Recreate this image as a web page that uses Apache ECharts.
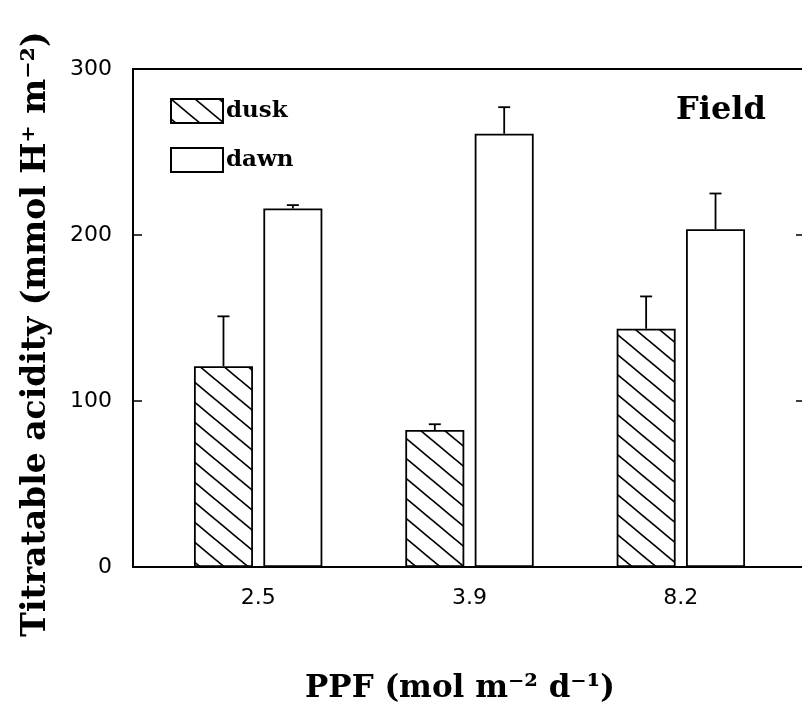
<!DOCTYPE html>
<html lang="en">
<head>
    <meta charset="utf-8">
    <script src="https://cdn.jsdelivr.net/npm/echarts@6/dist/echarts.min.js"></script>
    <title>Titratable acidity - Field</title>
    <style>
        html, body { margin: 0; padding: 0; background: #fff; }
        #main { width: 802px; height: 706px; }
    </style>
</head>
<body>
<div id="main"></div>
<script>
    // values
    var categories = ['2.5', '3.9', '8.2'];
    var duskMean = [121, 82.5, 143.5];
    var duskUpper = [151, 86, 163];
    var dawnMean = [216, 261, 203.5];
    var dawnUpper = [218, 277, 225];
    var yTicks = [0, 100, 200, 300];

    var serif = 'DejaVu Serif';
    var sans = 'DejaVu Sans';

    // diagonal hatch tile for the dusk bars
    function hatch() {
        var c = document.createElement('canvas');
        var w = 24, h = 20;
        c.width = w; c.height = h;
        var ctx = c.getContext('2d');
        ctx.fillStyle = '#fff';
        ctx.fillRect(0, 0, w, h);
        ctx.strokeStyle = '#000';
        ctx.lineWidth = 1.7;
        for (var dx = -1; dx <= 1; dx++) {
            for (var dy = -1; dy <= 1; dy++) {
                ctx.beginPath();
                ctx.moveTo(dx * w, dy * h);
                ctx.lineTo(dx * w + w, dy * h + h);
                ctx.stroke();
            }
        }
        return c;
    }

    var barW = 59, gapPct = 17.6;
    var half = barW / 2 + barW * gapPct / 200;

    var errData = [];
    categories.forEach(function (c, i) {
        errData.push([i, duskMean[i], duskUpper[i], -1]);
        errData.push([i, dawnMean[i], dawnUpper[i], 1]);
    });

    var chart = echarts.init(document.getElementById('main'));

    var option = {
        animation: false,
        backgroundColor: '#fff',
        grid: [{
            left: 133, top: 69, width: 673, height: 498, outerBoundsMode: 'none',
            show: true, borderColor: '#000', borderWidth: 2, backgroundColor: 'transparent'
        }, {
            left: 152.5, top: 69, width: 634, height: 498, outerBoundsMode: 'none'
        }],
        xAxis: [{
            type: 'value', gridIndex: 0, show: false
        }, {
            type: 'category', gridIndex: 1, data: categories,
            axisLine: {show: false},
            axisTick: {show: false},
            axisLabel: {color: '#000', fontFamily: sans, fontSize: 22, margin: 20}
        }],
        yAxis: [{
            type: 'value', gridIndex: 0, min: yTicks[0], max: yTicks[yTicks.length - 1], interval: 100,
            axisLine: {show: true, lineStyle: {color: '#000', width: 2}},
            axisTick: {show: true, inside: true, length: 9, lineStyle: {color: '#000', width: 1.5}},
            axisLabel: {color: '#000', fontFamily: sans, fontSize: 22, margin: 21},
            splitLine: {show: false}
        }, {
            type: 'value', gridIndex: 0, position: 'right', min: 0, max: 300, interval: 100,
            axisLine: {show: false},
            axisTick: {show: true, inside: true, length: 10, lineStyle: {color: '#000', width: 1.5}},
            axisLabel: {show: false},
            splitLine: {show: false}
        }, {
            type: 'value', gridIndex: 1, min: 0, max: 300, show: false
        }],
        legend: {
            data: ['dusk', 'dawn'],
            orient: 'vertical',
            left: 170, top: 98,
            padding: 0,
            itemWidth: 52, itemHeight: 24, itemGap: 23,
            icon: 'rect',
            textStyle: {color: '#000', fontFamily: serif, fontWeight: 'bold', fontSize: 23, padding: [0, 0, 0, -2]}
        },
        graphic: [{
            type: 'text', left: 676, top: 95,
            style: {text: 'Field', fill: '#000', font: 'bold 32px "DejaVu Serif"'}
        }, {
            type: 'text', x: 36, y: 334, rotation: Math.PI / 2,
            style: {
                text: 'Titratable acidity (mmol H\u207A m\u207B\u00B2)', fill: '#000',
                font: 'bold 33px "DejaVu Serif"', align: 'center', verticalAlign: 'middle'
            }
        }, {
            type: 'text', x: 460, y: 689,
            style: {
                text: 'PPF (mol m\u207B\u00B2 d\u207B\u00B9)', fill: '#000',
                font: 'bold 31px "DejaVu Serif"', align: 'center', verticalAlign: 'middle'
            }
        }],
        series: [{
            name: 'dusk', type: 'bar', xAxisIndex: 1, yAxisIndex: 2,
            barWidth: barW, barGap: gapPct + '%',
            itemStyle: {
                color: {image: hatch(), repeat: 'repeat'},
                borderColor: '#000', borderWidth: 1.8
            },
            data: duskMean
        }, {
            name: 'dawn', type: 'bar', xAxisIndex: 1, yAxisIndex: 2,
            barWidth: barW, barGap: gapPct + '%',
            itemStyle: {color: '#fff', borderColor: '#000', borderWidth: 1.8},
            data: dawnMean
        }, {
            type: 'custom', xAxisIndex: 1, yAxisIndex: 2, z: 5,
            renderItem: function (params, api) {
                var lo = api.coord([api.value(0), api.value(1)]);
                var hi = api.coord([api.value(0), api.value(2)]);
                var x = lo[0] + api.value(3) * half;
                var st = {stroke: '#000', lineWidth: 1.8};
                return {
                    type: 'group',
                    children: [{
                        type: 'line', shape: {x1: x, y1: lo[1], x2: x, y2: hi[1]}, style: st
                    }, {
                        type: 'line', shape: {x1: x - 6, y1: hi[1], x2: x + 6, y2: hi[1]}, style: st
                    }]
                };
            },
            data: errData
        }]
    };

    chart.setOption(option);
</script>
</body>
</html>
